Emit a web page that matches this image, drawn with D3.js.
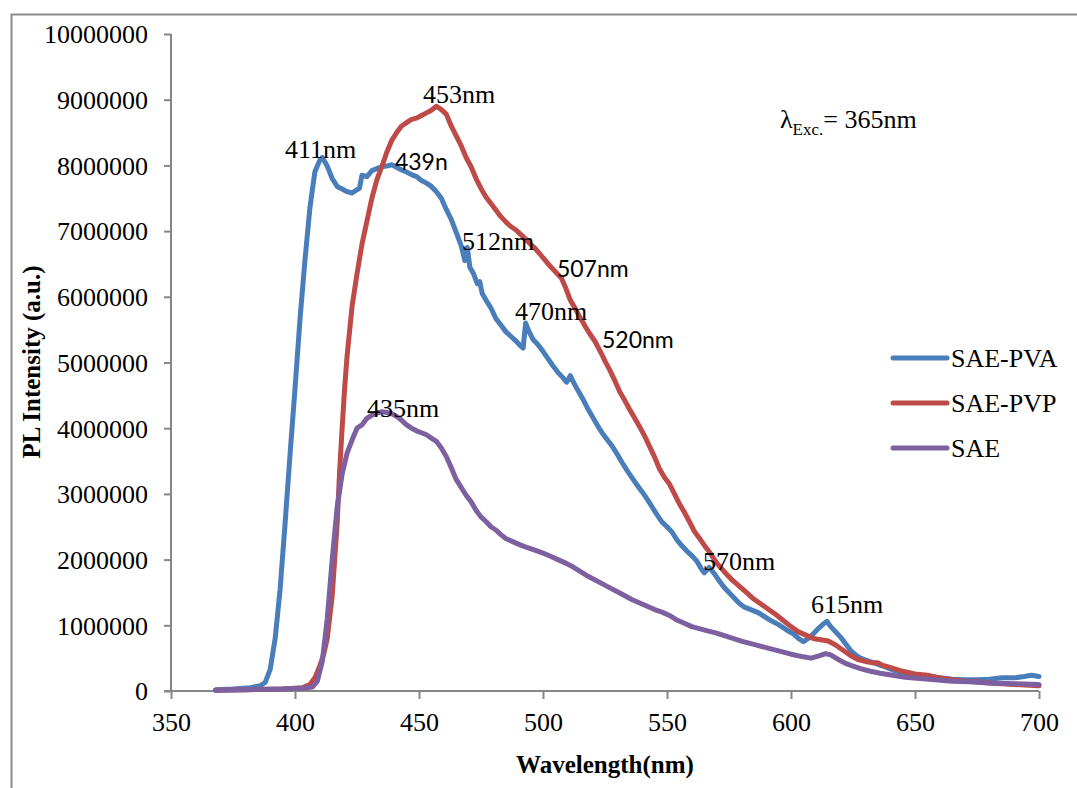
<!DOCTYPE html>
<html>
<head>
<meta charset="utf-8">
<title>PL spectra</title>
<script src="https://d3js.org/d3.v7.min.js"></script>
<style>
html, body { margin: 0; padding: 0; background: #fff; }
svg { display: block; }
.tick text { font-family: "Liberation Serif", "Times New Roman", serif; font-size: 26px; fill: #000; }
.serif { font-family: "Liberation Serif", "Times New Roman", serif; }
.sans { font-family: Lato, "Open Sans", sans-serif; }
</style>
</head>
<body>
<script>
// values in units of 1e6 (a.u.)
const pvaWl = [368,375,382,386,388,390,392,394,396,398,400,402,404,406,408,410,411,413,415,417,419,421,423,425,426,427,429,431,433,435,437,439,441,443,445,447,449,451,453,455,457,459,461,463,465,467,468.5,469.5,470.5,472,473.5,474.5,475.5,477,479,481,483,485,487,489,491,492,493,494,496,498,500,502,504,506,508,509.5,511,512,514,516,518,520,522,524,526,528,530,532,534,536,538,540,542,544,546,548,550,552,554,556,558,560,562,564,565,567,569,571,573,575,577,579,581,583,585,587,589,591,593,595,597,599,601,603,605,607,609,611,613,614.5,616,618,620,622,624,626,628,631,634,637,641,645,650,655,660,665,670,675,680,685,690,694,697,700];
const pvaVal = [0.02,0.03,0.05,0.08,0.13,0.33,0.8,1.55,2.55,3.6,4.6,5.65,6.55,7.35,7.9,8.08,8.12,7.99,7.8,7.68,7.64,7.6,7.58,7.63,7.65,7.85,7.83,7.92,7.95,7.98,7.99,8.01,7.97,7.93,7.9,7.86,7.83,7.77,7.73,7.68,7.6,7.5,7.33,7.18,6.98,6.78,6.55,6.75,6.45,6.35,6.2,6.23,6.05,5.95,5.83,5.67,5.57,5.47,5.4,5.33,5.25,5.22,5.6,5.5,5.35,5.27,5.17,5.06,4.95,4.85,4.77,4.7,4.8,4.72,4.58,4.45,4.3,4.17,4.04,3.92,3.82,3.72,3.6,3.47,3.35,3.24,3.13,3.03,2.92,2.8,2.68,2.57,2.5,2.42,2.3,2.21,2.13,2.06,1.98,1.85,1.8,1.88,1.79,1.68,1.58,1.5,1.42,1.34,1.28,1.25,1.22,1.19,1.14,1.09,1.05,1.01,0.96,0.91,0.87,0.8,0.75,0.8,0.87,0.95,1.02,1.06,0.98,0.9,0.82,0.72,0.62,0.55,0.5,0.46,0.42,0.38,0.32,0.28,0.25,0.22,0.2,0.18,0.17,0.17,0.18,0.2,0.2,0.22,0.24,0.22];

const pvpWl = [368,380,395,403,406,408,410,411.5,413,415,417,418,419,420,421,423,425,427,429,431,433,435,437,439,441,443,445,447,449,451,453,455,457,459,461,463,465,467,469,471,473,475,477,479,481,483,485,487,489,491,493,495,497,499,501,503,505,507.5,509,511,513,515,517,519,521,523.5,525,527,529,531,533,535,537,539,541,543,545,547,549,551,553,555,557,559,561,563,565,567,570,573,576,579,582,585,588,591,594,597,600,603,606,609,612,615,618,621,624,627,630,633,635,637,640,645,650,655,660,665,670,675,680,690,700];
const pvpVal = [0.01,0.02,0.03,0.05,0.1,0.2,0.38,0.55,0.8,1.45,2.55,3.35,4.0,4.6,5.1,5.85,6.35,6.8,7.15,7.5,7.78,7.98,8.2,8.38,8.5,8.6,8.65,8.7,8.72,8.76,8.8,8.84,8.9,8.85,8.78,8.6,8.45,8.3,8.12,7.98,7.8,7.65,7.52,7.42,7.32,7.22,7.14,7.07,7.02,6.95,6.88,6.8,6.73,6.64,6.55,6.46,6.38,6.28,6.15,5.95,5.82,5.68,5.55,5.43,5.32,5.14,5.02,4.88,4.72,4.55,4.42,4.28,4.15,4.02,3.88,3.72,3.56,3.38,3.25,3.15,3.0,2.85,2.72,2.58,2.43,2.33,2.22,2.12,1.95,1.82,1.7,1.6,1.5,1.4,1.32,1.24,1.16,1.07,0.98,0.9,0.85,0.8,0.78,0.76,0.7,0.62,0.54,0.48,0.45,0.43,0.43,0.39,0.36,0.3,0.26,0.24,0.2,0.17,0.15,0.14,0.12,0.1,0.08];

const saeWl = [368,380,395,403,407,409,411,413,415,417,419,421,423,425,427,429,431,433,435,437,439,441,443,445,447,449,451,453,455,457,459,461,463,465,467,469,471,473,475,477,479,481,483,485,488,491,494,497,500,503,506,509,512,515,518,521,524,527,530,533,536,539,542,545,548,551,554,557,560,563,566,570,575,580,585,590,595,600,605,608,611,614,616,619,622,625,628,632,636,641,646,652,658,665,672,680,690,700];
const saeVal = [0.01,0.02,0.03,0.04,0.06,0.15,0.45,1.1,2.0,2.8,3.3,3.62,3.82,4.0,4.05,4.15,4.2,4.23,4.25,4.24,4.22,4.18,4.12,4.05,4.0,3.96,3.93,3.9,3.85,3.8,3.7,3.57,3.4,3.22,3.1,2.98,2.88,2.75,2.65,2.58,2.5,2.45,2.38,2.32,2.27,2.22,2.18,2.14,2.1,2.05,2.0,1.95,1.89,1.82,1.75,1.69,1.63,1.57,1.51,1.45,1.39,1.34,1.29,1.24,1.2,1.15,1.08,1.03,0.98,0.95,0.92,0.88,0.82,0.76,0.71,0.66,0.61,0.56,0.52,0.5,0.53,0.57,0.55,0.48,0.42,0.38,0.34,0.3,0.27,0.24,0.21,0.19,0.17,0.15,0.14,0.12,0.11,0.1];

const seriesNames = ['SAE-PVA', 'SAE-PVP', 'SAE'];
const seriesColors = ['#4A7EBB', '#BE4B48', '#7D60A0'];

const xTicks = [350, 400, 450, 500, 550, 600, 650, 700];
const yTicks = [0, 1, 2, 3, 4, 5, 6, 7, 8, 9, 10];

const peakLabels = ['411nm', '453nm', '439n', '512nm', '507nm', '470nm', '520nm', '435nm', '570nm', '615nm'];
const peakWl =     [396.0, 451.6, 440.3, 467.3, 505.6, 488.7, 523.8, 429.0, 564.5, 608.1];
const peakVal =    [8.11, 8.95, 7.93, 6.71, 6.30, 5.65, 5.22, 4.17, 1.84, 1.19];
const peakSans =   [false, false, true, false, true, false, true, false, false, false];

const W = 1077, H = 788;
const svg = d3.select('body').append('svg').attr('width', W).attr('height', H);

// outer frame (left + top edges visible)
svg.append('path')
    .attr('d', 'M11.5,' + H + ' V14.5 H' + W)
    .attr('fill', 'none').attr('stroke', '#8c8c8c').attr('stroke-width', 2);

const x = d3.scaleLinear().domain([350, 700]).range([171, 1039]);
const y = d3.scaleLinear().domain([0, 10]).range([691, 34]);

const yAxis = d3.axisLeft(y).tickValues(yTicks).tickSize(7).tickPadding(16)
    .tickFormat(d => String(d * 1000000));
const gy = svg.append('g').attr('transform', 'translate(171,0)').call(yAxis);

const xAxis = d3.axisBottom(x).tickValues(xTicks).tickSize(8).tickPadding(14)
    .tickFormat(d3.format('d'));
const gx = svg.append('g').attr('transform', 'translate(0,691)').call(xAxis);

[gx, gy].forEach(g => {
    g.select('.domain').attr('stroke', '#868686').attr('stroke-width', 2);
    g.selectAll('.tick line').attr('stroke', '#868686').attr('stroke-width', 2);
});
gy.select('.domain').attr('d', 'M0,34V691');
gx.select('.domain').attr('d', 'M164,0H1039');
gy.selectAll('.tick text').attr('dy', '0.34em');

// axis titles
svg.append('text').attr('class', 'serif')
    .attr('x', 605).attr('y', 773).attr('text-anchor', 'middle')
    .attr('font-size', 25).attr('font-weight', 'bold')
    .text('Wavelength(nm)');
svg.append('text').attr('class', 'serif')
    .attr('transform', 'translate(40,' + 362 + ') rotate(-90)')
    .attr('text-anchor', 'middle')
    .attr('font-size', 25).attr('font-weight', 'bold')
    .text('PL Intensity (a.u.)');

// series
const line = d3.line().x(d => x(d[0])).y(d => y(d[1]));
const seriesData = [
    d3.zip(pvaWl, pvaVal),
    d3.zip(pvpWl, pvpVal),
    d3.zip(saeWl, saeVal)
];
seriesData.forEach((s, i) => {
    svg.append('path').datum(s)
        .attr('d', line)
        .attr('fill', 'none')
        .attr('stroke', seriesColors[i])
        .attr('stroke-width', 5)
        .attr('stroke-linejoin', 'round')
        .attr('stroke-linecap', 'round');
});

// peak labels
peakLabels.forEach((t, i) => {
    svg.append('text')
        .attr('class', peakSans[i] ? 'sans' : 'serif')
        .attr('x', x(peakWl[i])).attr('y', y(peakVal[i]))
        .attr('font-size', peakSans[i] ? 23 : 26)
        .text(t);
});

// excitation note
const note = svg.append('text').attr('class', 'serif').attr('x', 780).attr('y', 128).attr('font-size', 26);
note.append('tspan').text('\u03bb');
note.append('tspan').attr('font-size', 17).attr('dy', 7).text('Exc.');
note.append('tspan').attr('dy', -7).text('= 365nm');

// legend
const legend = svg.append('g');
seriesNames.forEach((n, i) => {
    const ly = 358 + i * 45;
    legend.append('line')
        .attr('x1', 893).attr('x2', 947).attr('y1', ly).attr('y2', ly)
        .attr('stroke', seriesColors[i]).attr('stroke-width', 5).attr('stroke-linecap', 'round');
    legend.append('text').attr('class', 'serif')
        .attr('x', 951).attr('y', ly + 9).attr('font-size', 26)
        .text(n);
});
</script>
</body>
</html>
